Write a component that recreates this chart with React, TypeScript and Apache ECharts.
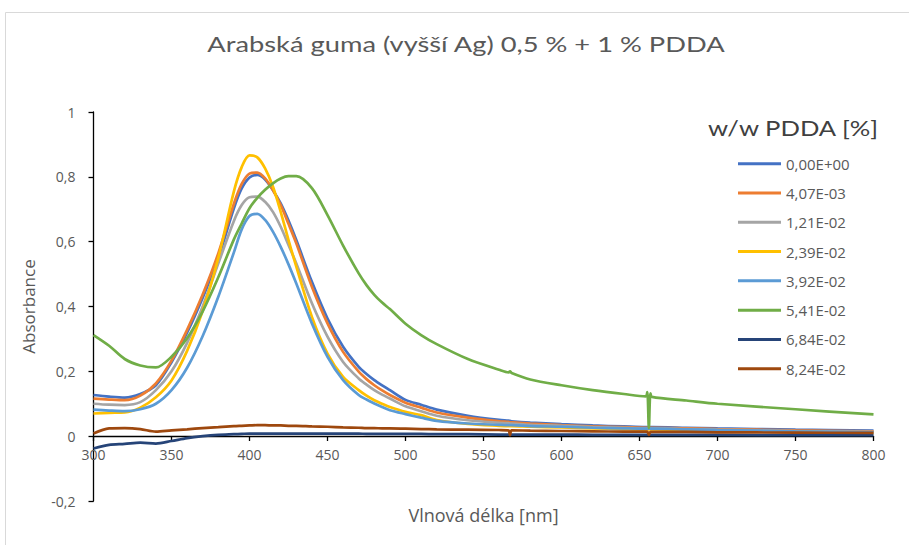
import React, { useEffect, useRef } from "react";
import * as echarts from "echarts";

const wavelengths = [300, 310, 320, 330, 340, 350, 360, 370, 380, 390, 395, 400, 405, 410, 415, 420, 425, 430, 440, 450, 460, 470, 475, 480, 485, 490, 500, 510, 520, 540, 560, 566, 567, 568, 580, 600, 620, 640, 654, 655, 656, 657, 658, 680, 700, 750, 800];

const seriesNames = ["0,00E+00", "4,07E-03", "1,21E-02", "2,39E-02", "3,92E-02", "5,41E-02", "6,84E-02", "8,24E-02"];
const seriesColors = ["#4472C4", "#ED7D31", "#A5A5A5", "#FFC000", "#5B9BD5", "#70AD47", "#264478", "#9E480E"];

const pdda0 = [0.127, 0.122, 0.119, 0.130, 0.157, 0.228, 0.319, 0.427, 0.550, 0.703, 0.764, 0.798, 0.806, 0.792, 0.759, 0.718, 0.665, 0.605, 0.476, 0.363, 0.276, 0.214, 0.192, 0.173, 0.157, 0.142, 0.112, 0.097, 0.082, 0.063, 0.050, 0.048, 0.047, 0.046, 0.042, 0.037, 0.033, 0.030, 0.028, 0.028, 0.028, 0.028, 0.028, 0.026, 0.024, 0.020, 0.017];
const pdda1 = [0.116, 0.113, 0.111, 0.125, 0.163, 0.233, 0.328, 0.437, 0.564, 0.717, 0.778, 0.810, 0.813, 0.795, 0.759, 0.713, 0.655, 0.595, 0.461, 0.348, 0.260, 0.199, 0.176, 0.157, 0.141, 0.127, 0.103, 0.088, 0.073, 0.057, 0.046, 0.044, 0.043, 0.043, 0.039, 0.034, 0.030, 0.028, 0.026, 0.026, 0.026, 0.026, 0.026, 0.024, 0.022, 0.018, 0.015];
const pdda2 = [0.100, 0.097, 0.096, 0.105, 0.142, 0.200, 0.288, 0.400, 0.533, 0.664, 0.713, 0.737, 0.739, 0.723, 0.692, 0.646, 0.590, 0.533, 0.410, 0.307, 0.229, 0.178, 0.159, 0.142, 0.128, 0.116, 0.092, 0.077, 0.063, 0.049, 0.041, 0.040, 0.039, 0.039, 0.035, 0.032, 0.028, 0.026, 0.024, 0.024, 0.024, 0.024, 0.024, 0.022, 0.020, 0.016, 0.013];
const pdda3 = [0.070, 0.072, 0.073, 0.088, 0.120, 0.172, 0.263, 0.387, 0.550, 0.755, 0.830, 0.866, 0.860, 0.826, 0.770, 0.692, 0.605, 0.523, 0.368, 0.255, 0.183, 0.142, 0.125, 0.111, 0.100, 0.090, 0.075, 0.065, 0.050, 0.038, 0.032, 0.031, 0.031, 0.031, 0.029, 0.027, 0.024, 0.022, 0.021, 0.021, 0.021, 0.021, 0.021, 0.019, 0.017, 0.013, 0.010];
const pdda4 = [0.082, 0.079, 0.077, 0.083, 0.100, 0.142, 0.211, 0.309, 0.430, 0.567, 0.638, 0.679, 0.686, 0.667, 0.631, 0.584, 0.530, 0.471, 0.348, 0.245, 0.173, 0.127, 0.113, 0.101, 0.090, 0.080, 0.068, 0.057, 0.047, 0.039, 0.035, 0.034, 0.034, 0.034, 0.031, 0.029, 0.026, 0.024, 0.023, 0.023, 0.023, 0.023, 0.023, 0.021, 0.019, 0.015, 0.012];
const pdda5 = [0.312, 0.279, 0.238, 0.218, 0.212, 0.245, 0.302, 0.385, 0.490, 0.607, 0.656, 0.703, 0.735, 0.760, 0.780, 0.795, 0.802, 0.802, 0.765, 0.682, 0.588, 0.502, 0.466, 0.436, 0.412, 0.392, 0.347, 0.312, 0.284, 0.238, 0.205, 0.197, 0.200, 0.195, 0.175, 0.157, 0.142, 0.130, 0.123, 0.136, 0.025, 0.132, 0.121, 0.110, 0.100, 0.083, 0.067];
const pdda6 = [-0.038, -0.027, -0.024, -0.020, -0.023, -0.015, -0.006, 0.000, 0.004, 0.006, 0.007, 0.008, 0.008, 0.008, 0.008, 0.008, 0.008, 0.008, 0.008, 0.008, 0.008, 0.008, 0.007, 0.007, 0.007, 0.007, 0.007, 0.007, 0.006, 0.006, 0.005, 0.005, 0.005, 0.005, 0.005, 0.005, 0.004, 0.004, 0.004, 0.004, 0.004, 0.004, 0.004, 0.004, 0.004, 0.003, 0.003];
const pdda7 = [0.008, 0.024, 0.025, 0.022, 0.014, 0.018, 0.021, 0.025, 0.028, 0.031, 0.032, 0.033, 0.034, 0.034, 0.033, 0.033, 0.032, 0.032, 0.030, 0.029, 0.027, 0.026, 0.025, 0.025, 0.024, 0.024, 0.023, 0.022, 0.021, 0.020, 0.019, 0.018, 0.003, 0.018, 0.017, 0.016, 0.015, 0.014, 0.014, 0.014, 0.004, 0.013, 0.013, 0.013, 0.012, 0.011, 0.010];

const allValues = [pdda0, pdda1, pdda2, pdda3, pdda4, pdda5, pdda6, pdda7];

const chartTitle = "Arabská guma (vyšší Ag) 0,5 % + 1 % PDDA";
const legendTitle = "w/w PDDA [%]";
const xName = "Vlnová délka [nm]";
const yName = "Absorbance";

const FONT = "Lato, 'Open Sans', sans-serif";
const FONT2 = "'Open Sans', Lato, sans-serif";

export default function App() {
  const ref = useRef<HTMLDivElement>(null);
  useEffect(() => {
    if (!ref.current) return;
    const chart = echarts.init(ref.current, null, { renderer: "svg" });
    const series = allValues.map((vals, si) => ({
      name: seriesNames[si],
      type: "line",
      data: wavelengths.map((w, i) => [w, vals[i]]),
      showSymbol: false,
      symbol: "none",
      smooth: 0.3,
      lineStyle: { color: seriesColors[si], width: 2.7 },
      itemStyle: { color: seriesColors[si] },
    }));
    chart.setOption({
      animation: false,
      backgroundColor: "#ffffff",
      textStyle: { fontFamily: FONT2 },
      grid: { left: 93.5, top: 112, right: 35.5, bottom: 44, containLabel: false, outerBoundsMode: "none" },
      xAxis: {
        type: "value",
        position: "bottom",
        offset: -65,
        min: 300,
        max: 800,
        interval: 50,
        name: xName,
        nameLocation: "middle",
        nameGap: 70,
        nameTextStyle: { color: "#595959", fontSize: 18, fontFamily: FONT2 },
        axisLine: { onZero: false, lineStyle: { color: "#000", width: 1.3 } },
        axisTick: { show: true, inside: false, length: 5, lineStyle: { color: "#000", width: 1.3 } },
        axisLabel: { color: "#595959", fontSize: 14, margin: 11, fontFamily: FONT2 },
        splitLine: { show: false },
      },
      yAxis: {
        type: "value",
        min: -0.2,
        max: 1,
        interval: 0.2,
        name: yName,
        nameLocation: "middle",
        nameGap: 57,
        nameRotate: 90,
        nameTextStyle: { color: "#595959", fontSize: 17, fontFamily: FONT2 },
        axisLine: { show: true, onZero: false, lineStyle: { color: "#000", width: 1.3 } },
        axisTick: { show: true, inside: false, length: 5, lineStyle: { color: "#000", width: 1.3 } },
        axisLabel: {
          color: "#595959",
          fontSize: 14,
          margin: 18,
          fontFamily: FONT2,
          formatter: (v: number) => String(Math.round(v * 10) / 10).replace(".", ","),
        },
        splitLine: { show: false },
      },
      legend: {
        orient: "vertical",
        left: 733,
        top: 149,
        itemWidth: 43,
        itemHeight: 3,
        itemGap: 10,
        icon: "rect",
        textStyle: { color: "#595959", fontSize: 15, lineHeight: 19.3, fontFamily: FONT2 },
        data: seriesNames.map((n, i) => ({ name: n, itemStyle: { color: seriesColors[i] } })),
      },
      graphic: [
        {
          type: "rect",
          shape: { x: 5.5, y: 12.5, width: 1000, height: 1000 },
          style: { fill: "none", stroke: "#d9d9d9", lineWidth: 1 },
          silent: true,
        },
        {
          type: "text",
          x: 466,
          y: 44,
          scaleX: 1.3,
          style: { text: chartTitle, textAlign: "center", textVerticalAlign: "middle", fill: "#595959", font: `21px ${FONT}` },
        },
        {
          type: "text",
          x: 793,
          y: 128,
          scaleX: 1.22,
          style: { text: legendTitle, textAlign: "center", textVerticalAlign: "middle", fill: "#404040", font: `21px ${FONT}` },
        },
      ],
      series,
    });
    return () => chart.dispose();
  }, []);
  return <div ref={ref} style={{ position: "fixed", left: 0, top: 0, width: 909, height: 545 }} />;
}
